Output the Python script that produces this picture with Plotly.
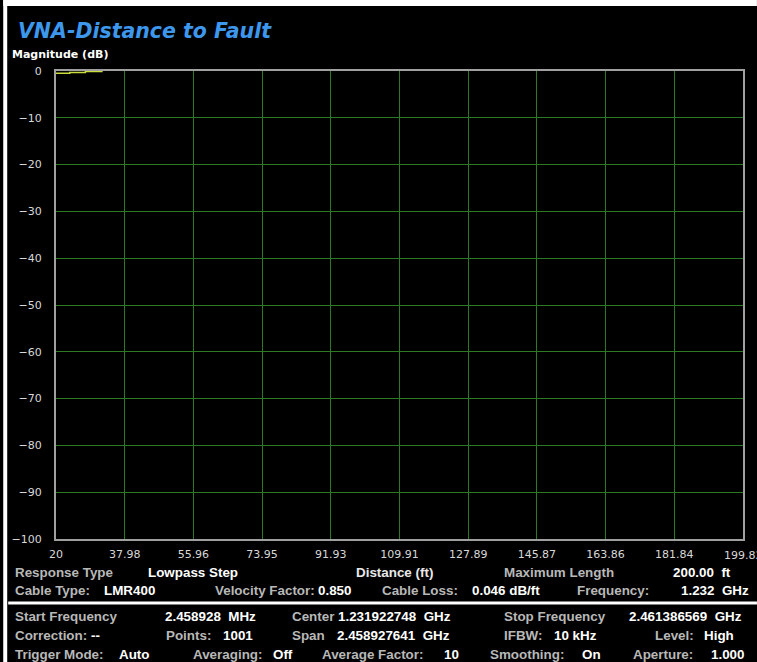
import plotly.graph_objects as go

# trace data (distance in ft, magnitude in dB)
distance = [20, 23.6, 27.7, 32.2]
magnitude = [-0.5, -0.3, -0.1, -0.1]

x_ticks = [20, 37.98, 55.96, 73.95, 91.93, 109.91, 127.89, 145.87, 163.86, 181.84, 199.82]
y_ticks = [0, -10, -20, -30, -40, -50, -60, -70, -80, -90, -100]

# info panel rows: (label, value) text pieces placed along the bottom
info_labels = [
    ("Response Type", 14, 572), ("Maximum Length", 505, 572),
    ("Cable Type:", 14, 590), ("Velocity Factor:", 215, 590), ("Cable Loss:", 382, 590), ("Frequency:", 578, 590),
    ("Start Frequency", 14, 616), ("Center", 292, 616), ("Stop Frequency", 505, 616),
    ("Correction:", 14, 635), ("Points:", 165, 635), ("Span", 292, 635), ("IFBW:", 505, 635), ("Level:", 657, 635),
    ("Trigger Mode:", 14, 654), ("Averaging:", 193, 654), ("Average Factor:", 322, 654),
    ("Smoothing:", 491, 654), ("Aperture:", 635, 654),
]
info_values = [
    ("Lowpass Step", 147, 572), ("200.00  ft", 675, 572),
    ("LMR400", 103, 590), ("0.850", 318, 590), ("0.046 dB/ft", 473, 590), ("1.232  GHz", 683, 590),
    ("2.458928  MHz", 164, 616), ("1.231922748  GHz", 338, 616), ("2.461386569  GHz", 630, 616),
    ("--", 90, 635), ("1001", 223, 635), ("2.458927641  GHz", 337, 635), ("10 kHz", 555, 635), ("High", 706, 635),
    ("Auto", 118, 654), ("Off", 273, 654), ("10", 445, 654), ("On", 583, 654), ("1.000", 713, 654),
]

W, H = 757, 662
L, R, T, B = 53, 743, 71, 539
PAD = 4  # annotation box padding


def px(x):
    return (x - PAD - L) / (R - L)


def py(y):
    return (B - y) / (B - T)


fig = go.Figure()
fig.add_trace(go.Scatter(x=distance, y=magnitude, mode="lines", line_shape="hv",
                         line=dict(color="#c9dc3c", width=1.5), showlegend=False))

FONT = "DejaVu Sans"
PANEL = "Liberation Sans"
PANEL_SIZE = 13.4
annotations = [
    dict(text="<b><i>VNA-Distance to Fault</i></b>", x=px(17), y=py(31), xanchor="left", yanchor="middle",
         font=dict(family=FONT, size=20.5, color="#3d97ec")),
    dict(text="<b>Magnitude (dB)</b>", x=px(11), y=py(55), xanchor="left", yanchor="middle",
         font=dict(family=FONT, size=11, color="#ffffff")),
    dict(text="<b>Distance (ft)</b>", x=px(393 + PAD), y=py(572), xanchor="center", yanchor="middle",
         font=dict(family=PANEL, size=PANEL_SIZE, color="#e8e8e8")),
]
for text, x, y in info_labels:
    annotations.append(dict(text="<b>" + text + "</b>", x=px(x), y=py(y), xanchor="left", yanchor="middle",
                            font=dict(family=PANEL, size=PANEL_SIZE, color="#b8b8b8")))
for text, x, y in info_values:
    annotations.append(dict(text="<b>" + text + "</b>", x=px(x), y=py(y), xanchor="left", yanchor="middle",
                            font=dict(family=PANEL, size=PANEL_SIZE, color="#ffffff")))
for a in annotations:
    a.update(xref="paper", yref="paper", showarrow=False)

# the last distance label runs past the window edge; draw it as an annotation so it clips like the screen
annotations.append(dict(text=f"{x_ticks[-1]:g}", x=x_ticks[-1], xref="x", y=py(555), yref="paper",
                        xanchor="center", yanchor="middle", showarrow=False,
                        font=dict(family=FONT, size=11, color="#d8d8d8")))

shapes = [
    # white frame strips from the screenshot
    dict(type="rect", x0=px(PAD), x1=px(W + PAD), y0=py(0), y1=py(6), fillcolor="white", line_width=0),
    dict(type="rect", x0=px(PAD), x1=px(PAD + 4), y0=py(0), y1=py(H), fillcolor="white", line_width=0),
    # separator above the status rows
    dict(type="line", x0=px(PAD + 5), x1=px(W + PAD), y0=py(603), y1=py(603), line=dict(color="white", width=3)),
]
for s in shapes:
    s.update(xref="paper", yref="paper", layer="above")

fig.update_layout(
    width=W, height=H,
    margin=dict(l=L, r=W - R, t=T, b=H - B),
    paper_bgcolor="black", plot_bgcolor="black",
    font=dict(family=FONT, color="#d8d8d8", size=11),
    xaxis=dict(range=[20, 199.82], tickvals=x_ticks,
               ticktext=[f"{v:g}" for v in x_ticks[:-1]] + [""],
               showgrid=True, gridcolor="#2c7a22", gridwidth=1, zeroline=False,
               showline=True, linecolor="#a0a0a0", linewidth=2, mirror=True,
               ticks="", ticklabelstandoff=4, tickfont=dict(size=11, color="#d8d8d8")),
    yaxis=dict(range=[-100, 0], tickvals=y_ticks,
               showgrid=True, gridcolor="#2c7a22", gridwidth=1, zeroline=False,
               showline=True, linecolor="#a0a0a0", linewidth=2, mirror=True,
               ticks="", ticklabelstandoff=10, tickfont=dict(size=11, color="#d8d8d8")),
    annotations=annotations,
    shapes=shapes,
)

fig.write_html("out.html", config={"displayModeBar": False},
               post_script="document.body.style.margin='0';")
